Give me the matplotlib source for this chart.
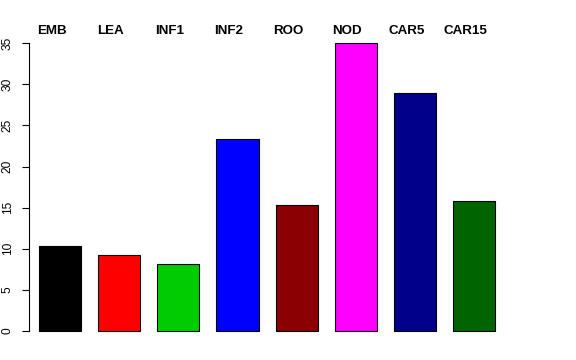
import matplotlib
matplotlib.use("Agg")
import matplotlib.pyplot as plt
import matplotlib.transforms as mtransforms

categories = ["EMB", "LEA", "INF1", "INF2", "ROO", "NOD", "CAR5", "CAR15"]
values = [10.3, 9.3, 8.15, 23.35, 15.3, 35.05, 28.95, 15.85]
colors = ["#000000", "#FF0000", "#00CD00", "#0000FF", "#8B0000", "#FF00FF", "#00008B", "#006400"]
yticks = [0, 5, 10, 15, 20, 25, 30, 35]

plt.rcParams['font.family'] = ['Liberation Sans', 'DejaVu Sans']

W, H = 576, 360
fig = plt.figure(figsize=(W / 100, H / 100), dpi=100)
left_px, right_px, top_px, bot_px = 29, 522, 32, 343
ax = fig.add_axes([left_px / W, 1 - bot_px / H, (right_px - left_px) / W, (bot_px - top_px) / H])

centers = [0.7 + 1.4 * i for i in range(len(categories))]
ax.bar(centers, values, width=1.0, color=colors, edgecolor="black", linewidth=0.8)

ax.set_xlim(-0.032, 11.632)
ax.set_ylim(-1.46, 36.37)
for s in ["top", "right", "bottom"]:
    ax.spines[s].set_visible(False)
ax.spines["left"].set_bounds(0, 35)
ax.spines["left"].set_linewidth(0.8)
ax.set_xticks([])
ax.set_yticks(yticks)
ax.set_yticklabels([str(t) for t in yticks], rotation=90, va="center", fontsize=8.6)
ax.tick_params(axis="y", length=5, width=0.8, pad=6)

trans = mtransforms.blended_transform_factory(ax.transData, fig.transFigure)
for c, name in zip(centers, categories):
    ax.text(c - 0.2, 1 - 31 / H, name, transform=trans,
            ha="center", va="center", fontsize=9.6, fontweight="bold")

fig.savefig("out.png", dpi=100)
